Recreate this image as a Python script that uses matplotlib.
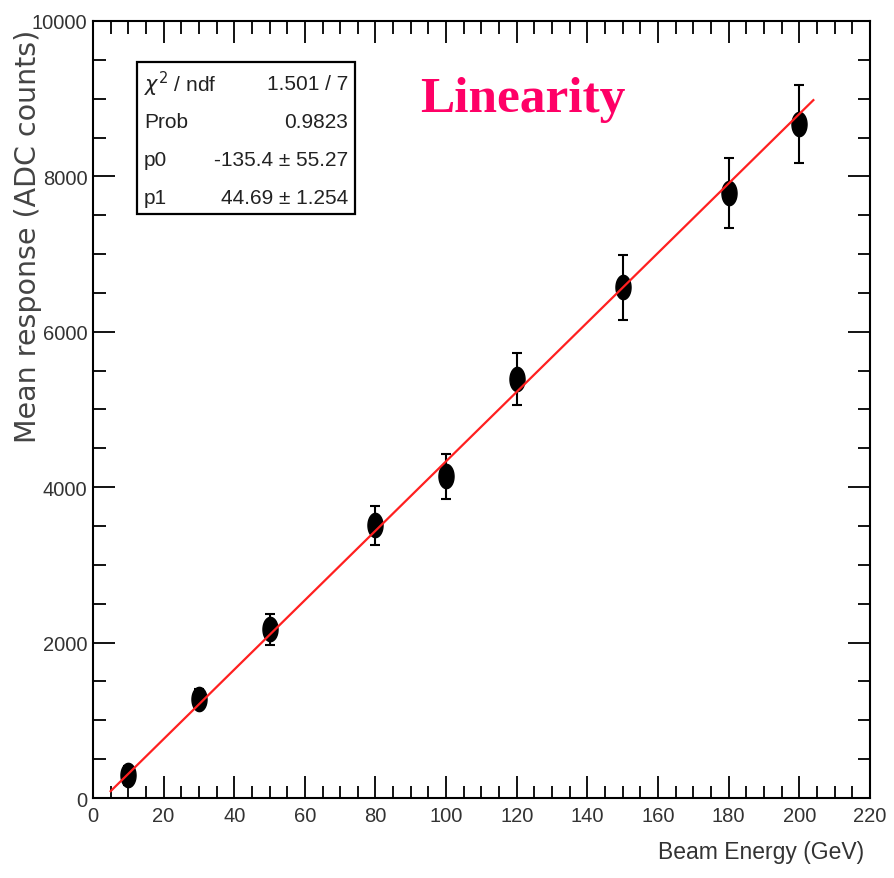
import numpy as np
import matplotlib
matplotlib.use("Agg")
import matplotlib.pyplot as plt
from matplotlib.path import Path
from matplotlib.ticker import MultipleLocator

# Beam energies (GeV) and measured mean response (ADC counts)
energy = [10, 30, 50, 80, 100, 120, 150, 180, 200]
response = [290, 1280, 2170, 3510, 4140, 5390, 6570, 7790, 8670]
response_err = [120, 120, 200, 250, 290, 335, 420, 450, 500]

# Linear fit result
p0, p0_err = -135.4, 55.27
p1, p1_err = 44.69, 1.254
chi2_ndf = "1.501 / 7"
prob = "0.9823"
fit_range = [5, 204]

sans = ["Liberation Sans", "DejaVu Sans"]

fig = plt.figure(figsize=(8.94, 8.79), dpi=100)
ax = fig.add_axes([0.104, 0.091, 0.869, 0.884])

# tall elliptical marker
t = np.linspace(0, 2 * np.pi, 60)
ell = Path(np.column_stack([0.62 * np.cos(t), np.sin(t)]), closed=True)

ax.errorbar(energy, response, yerr=response_err, fmt="none", ecolor="black",
            elinewidth=1.5, capsize=3.5, capthick=1.5, zorder=2)
ax.plot(energy, response, linestyle="none", marker=ell, markersize=17.5,
        color="black", zorder=3)

xf = np.array(fit_range, dtype=float)
ax.plot(xf, p0 + p1 * xf, color="#ff2020", lw=1.6, zorder=4)

ax.set_xlim(0, 220)
ax.set_ylim(0, 10000)
ax.xaxis.set_major_locator(MultipleLocator(20))
ax.xaxis.set_minor_locator(MultipleLocator(5))
ax.yaxis.set_major_locator(MultipleLocator(2000))
ax.yaxis.set_minor_locator(MultipleLocator(500))
ax.tick_params(which="both", direction="in", top=True, right=True,
               width=1.3, color="black")
ax.tick_params(which="major", length=16)
ax.tick_params(which="minor", length=9)
ax.tick_params(axis="x", which="major", pad=6)
ax.tick_params(axis="y", which="major", pad=4)
for s in ax.spines.values():
    s.set_linewidth(1.5)

for lab in ax.get_xticklabels() + ax.get_yticklabels():
    lab.set_family(sans)
    lab.set_fontsize(14.5)
    lab.set_color("#333333")

ax.set_xlabel("Beam Energy (GeV)", family=sans, fontsize=16.5,
              color="#333333", ha="right")
ax.xaxis.set_label_coords(0.993, -0.054)
ax.set_ylabel("Mean response (ADC counts)", family=["DejaVu Sans"],
              fontsize=20.5, color="#444444", ha="right")
ax.yaxis.set_label_coords(-0.066, 0.99)

# fit statistics box
bx0, by0, bx1, by1 = 137, 63, 355, 215
W, H = 894, 879
box = plt.Rectangle((bx0 / W, 1 - by1 / H), (bx1 - bx0) / W, (by1 - by0) / H,
                    transform=fig.transFigure, fill=False, lw=1.6,
                    edgecolor="black", zorder=5)
fig.add_artist(box)
rows = [(r"$\chi^{2}$ / ndf", chi2_ndf), ("Prob", prob),
        ("p0", f"{p0} \u00b1 {p0_err}"), ("p1", f"{p1} \u00b1 {p1_err}")]
for i, (k, v) in enumerate(rows):
    yy = 1 - (84 + i * 38) / H
    fig.text(144 / W, yy, k, family=sans, fontsize=15, color="#222222",
             va="center", ha="left")
    fig.text(348 / W, yy, v, family=sans, fontsize=15, color="#222222",
             va="center", ha="right")

fig.text(523 / W, 1 - 100 / H, "Linearity", family=["Liberation Serif", "DejaVu Serif"],
         fontsize=37, fontweight="bold", color="#ff0066", ha="center", va="center")

fig.savefig("out.png", dpi=100)
